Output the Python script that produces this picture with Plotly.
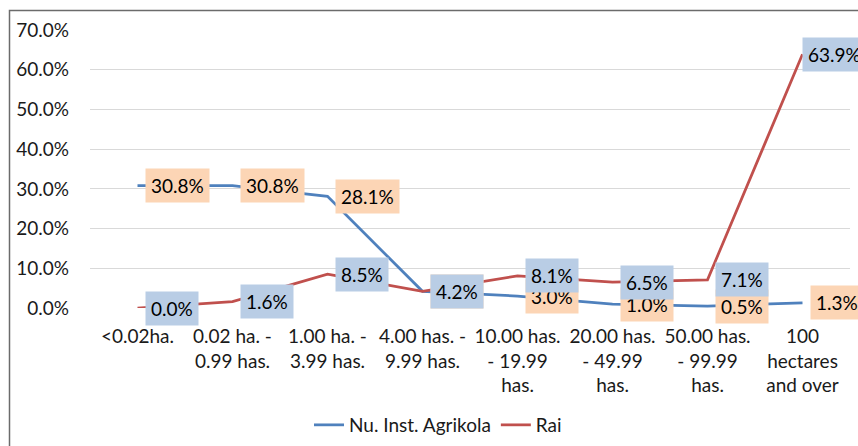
import plotly.graph_objects as go

categories = [
    "&lt;0.02ha.",
    "0.02 ha. -<br>0.99 has.",
    "1.00 ha. -<br>3.99 has.",
    "4.00 has. -<br>9.99 has.",
    "10.00 has.<br>- 19.99<br>has.",
    "20.00 has.<br>- 49.99<br>has.",
    "50.00 has.<br>- 99.99<br>has.",
    "100<br>hectares<br>and over",
]
agrikola = [0.308, 0.308, 0.281, 0.042, 0.030, 0.010, 0.005, 0.013]
rai = [0.000, 0.016, 0.085, 0.042, 0.081, 0.065, 0.071, 0.639]
y_ticks = [0.0, 0.1, 0.2, 0.3, 0.4, 0.5, 0.6, 0.7]

BLUE = "#4F81BD"
RED = "#C0504D"
BLUE_BG = "#B9CDE5"
PEACH_BG = "#FCD5B5"
FONT = "Lato"
FS = 19

W, H = 858, 446
ML, MR, MT, MB = 90, 8, 30, 138
pw = W - ML - MR
ph = H - MT - MB
n = len(categories)
CHART_RIGHT = 865  # labels are kept inside the chart area

fig = go.Figure()
fig.add_trace(go.Scatter(x=categories, y=agrikola, mode="lines", name="Nu. Inst. Agrikola",
                         line=dict(color=BLUE, width=2.75)))
fig.add_trace(go.Scatter(x=categories, y=rai, mode="lines", name="Rai",
                         line=dict(color=RED, width=2.75)))

annotations = []
for series, bg in ((agrikola, PEACH_BG), (rai, BLUE_BG)):
    for i, (c, v) in enumerate(zip(categories, series)):
        txt = f"{v*100:.1f}%"
        px = ML + (i + 0.5) * pw / n
        box_w = 11 * len(txt) + 8
        shift = 7
        if px + shift + box_w > CHART_RIGHT:
            shift = CHART_RIGHT - box_w - px
        annotations.append(dict(
            x=c, y=v, xref="x", yref="y", text=txt, showarrow=False,
            xanchor="left", yanchor="middle", xshift=shift, bgcolor=bg, borderpad=5,
            font=dict(family=FONT, size=FS, color="#000000")))

shapes = [dict(type="rect", xref="paper", yref="paper",
               x0=(9.5 - ML) / pw, x1=(W + 20 - ML) / pw,
               y0=-(H + 20 - MT - ph) / ph, y1=(MT + ph - 10.5) / ph,
               line=dict(color="#6b6b6b", width=1.5), fillcolor="rgba(0,0,0,0)", layer="below")]

fig.update_layout(
    width=W, height=H,
    margin=dict(l=ML, r=MR, t=MT, b=MB, autoexpand=False),
    paper_bgcolor="white", plot_bgcolor="white",
    font=dict(family=FONT, size=FS, color="#1a1a1a"),
    showlegend=True,
    legend=dict(orientation="h", x=(438 - ML) / pw, xanchor="center",
                y=(MT + ph - 425) / ph, yanchor="middle",
                font=dict(family=FONT, size=FS, color="#1a1a1a"),
                itemwidth=30, bgcolor="rgba(0,0,0,0)"),
    annotations=annotations,
    shapes=shapes,
    xaxis=dict(type="category", range=[-0.5, n - 0.5], automargin=False,
               showgrid=False, showline=False, zeroline=False,
               ticks="", tickfont=dict(family=FONT, size=FS, color="#1a1a1a"),
               ticklabelstandoff=15, fixedrange=True),
    yaxis=dict(range=[0, 0.7], tickvals=y_ticks, tickformat=".1%", automargin=False,
               showgrid=True, gridcolor="#D9D9D9", gridwidth=1,
               zeroline=False, showline=False, ticks="",
               tickfont=dict(family=FONT, size=FS, color="#1a1a1a"),
               ticklabelstandoff=20, fixedrange=True),
)

fig.write_html("out.html", config={"displayModeBar": False},
               post_script="document.body.style.margin='0';document.body.style.overflow='hidden';")
